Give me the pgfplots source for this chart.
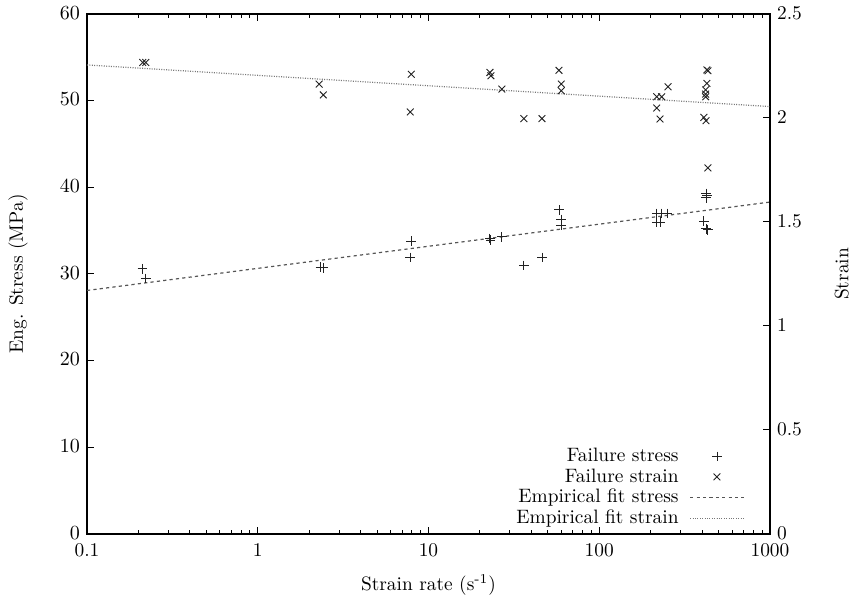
\documentclass[border=0pt]{standalone}
\usepackage{pgfplots}
\pgfplotsset{compat=1.18}
\definecolor{mk}{HTML}{222222}
\definecolor{fitc}{HTML}{555555}
\pgfplotstableread{
x y
0.211 30.6
0.221 29.5
2.33 30.8
2.42 30.7
7.93 33.8
7.82 31.9
22.9 34.1
23.1 33.9
26.9 34.3
36.2 31.0
46.2 31.9
58.1 37.4
59.9 36.3
59.9 35.6
217 37.0
232 37.0
250 37.0
217 36.0
229 36.0
422 39.3
427 39.1
422 38.8
410 36.1
422 35.2
433 35.1
}\stresstab
\pgfplotstableread{
x y
0.212 2.267
0.221 2.267
2.29 2.163
2.42 2.111
7.93 2.210
7.82 2.029
22.9 2.219
23.2 2.203
26.9 2.139
36.2 1.997
46.2 1.997
58.1 2.229
59.9 2.163
59.9 2.131
253 2.150
217 2.102
232 2.102
217 2.048
227 1.995
427 2.231
433 2.227
427 2.166
420 2.135
420 2.115
420 2.102
410 2.003
422 1.987
433 1.760
}\straintab
\begin{document}
\begin{tikzpicture}[x=1pt,y=1pt]
\useasboundingbox (-43.5,-34.5) rectangle (387,267);
\pgfplotsset{
  every axis/.append style={font=\fontsize{9.7}{11}\selectfont},
  major tick length=3.5pt, minor tick length=2pt,
  tick style={line width=0.5pt, black},
  axis line style={line width=0.6pt},
  stressmk/.style={only marks, mark=+, mark size=2.4pt, color=mk, mark options={line width=0.45pt}},
  strainmk/.style={only marks, mark=x, mark size=2.4pt, color=mk, mark options={line width=0.45pt}},
  fitstress/.style={no marks, color=fitc, line width=0.6pt, dash pattern=on 1.6pt off 1.6pt},
  fitstrain/.style={no marks, color=fitc!80, line width=0.6pt, dash pattern=on 0.5pt off 0.7pt},
}
\begin{axis}[at={(0,0)}, anchor=south west, scale only axis,
  width=341.5pt, height=260pt,
  xmode=log, xmin=0.1, xmax=1000, ymin=0, ymax=60,
  xtick={0.1,1,10,100,1000}, xticklabels={0.1,1,10,100,1000},
  xtick pos=both, ytick pos=left,
  ytick={0,10,...,60},
  tick align=inside,
  xticklabel style={yshift=-1.2pt},
  yticklabel style={yshift=0.6pt},
  xlabel={Strain rate (s\textsuperscript{-1})},
  ylabel={Eng. Stress (MPa)},
  xlabel style={at={(axis description cs:0.5,-0.098)}, anchor=center},
  ylabel style={at={(axis description cs:-0.101,0.5)}, anchor=center},
  clip=false,
]
\addplot[stressmk, forget plot] table[x=x,y=y] {\stresstab};
\addplot[fitstress, forget plot] coordinates {(0.1,28.1) (1000,38.3)};
\end{axis}
\begin{axis}[at={(0,0)}, anchor=south west, scale only axis,
  width=341.5pt, height=260pt,
  xmode=log, xmin=0.1, xmax=1000, ymin=0, ymax=2.5,
  axis x line=none, axis y line*=right,
  ytick={0,0.5,1,1.5,2,2.5}, yticklabels={0,0.5,1,1.5,2,2.5},
  yticklabel style={yshift=0.6pt},
  tick align=inside,
  ylabel={Strain},
  ylabel style={at={(axis description cs:1.105,0.5)}, anchor=center},
  legend plot pos=right, legend cell align=right,
  legend image code/.code={\draw[mark repeat=2,mark phase=2,#1] plot coordinates {(0cm,0cm) (0.47cm,0cm) (0.94cm,0cm)};},
  legend style={at={(0.963,0.006)}, anchor=south east, draw=none, fill=none,
    inner sep=0pt, row sep=-2pt, column sep=3.5pt,
    font=\fontsize{9.7}{11}\selectfont},
]
\addlegendimage{stressmk}
\addlegendentry{Failure stress}
\addlegendimage{strainmk}
\addlegendentry{Failure strain}
\addlegendimage{fitstress}
\addlegendentry{Empirical fit stress}
\addlegendimage{fitstrain}
\addlegendentry{Empirical fit strain}
\addplot[strainmk, forget plot] table[x=x,y=y] {\straintab};
\addplot[fitstrain, forget plot] coordinates {(0.1,2.255) (1000,2.055)};
\end{axis}
\end{tikzpicture}
\end{document}
